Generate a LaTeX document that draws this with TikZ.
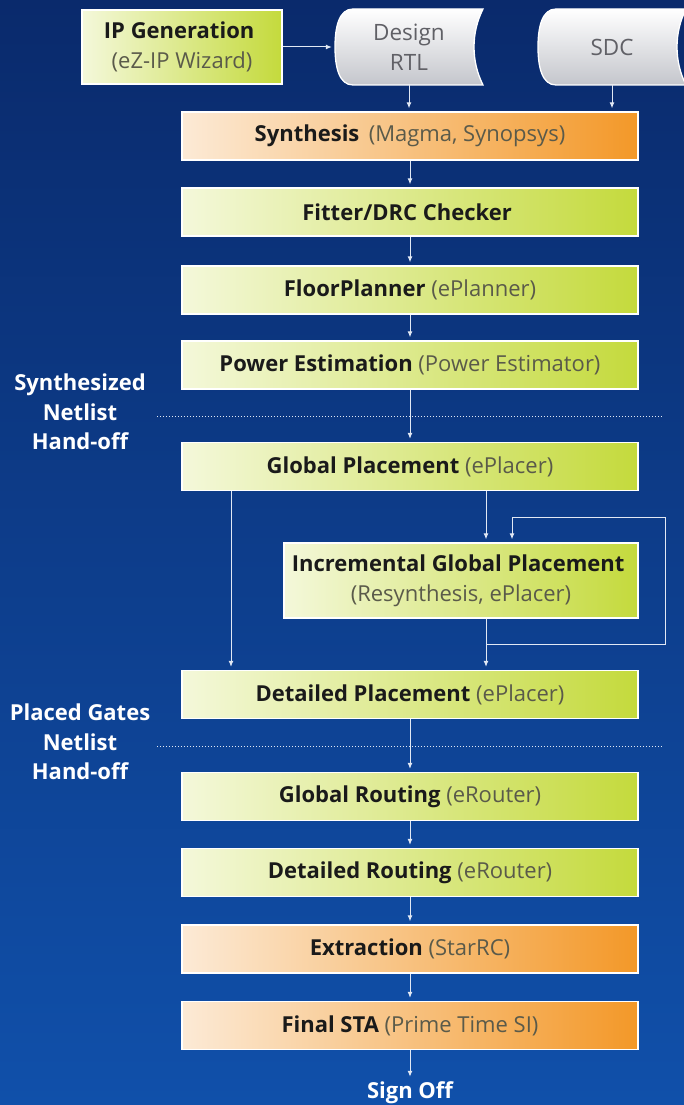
\documentclass[tikz,border=0pt]{standalone}
\usepackage{fontspec}
\setmainfont{Open Sans}
\usetikzlibrary{arrows.meta}
\newcommand{\LINEPT}{1.3pt}
\newcommand{\BOXW}{456pt}
\newcommand{\BOXH}{48pt}
\definecolor{mybgtop}{RGB}{10,42,108}
\definecolor{mybgbot}{RGB}{16,80,170}
\definecolor{mygreenpale}{RGB}{244,248,218}
\definecolor{mygreen}{RGB}{196,218,60}
\definecolor{myorangepale}{RGB}{252,234,214}
\definecolor{myorange}{RGB}{243,152,40}
\definecolor{mygrey}{RGB}{196,198,204}
\definecolor{myline}{RGB}{225,232,244}
\definecolor{mytool}{RGB}{90,90,74}
\definecolor{mystep}{RGB}{26,26,26}
\definecolor{mydoc}{RGB}{96,96,102}
\newcommand{\stepname}[2]{{\bfseries\color{mystep}#1} {\color{mytool}#2}}
% stored data shape, centred on (#1,#2)
\newcommand{\docshape}[2]{%
	\draw[docbox, shift={(#1,#2)}] (-56,-38) -- (74,-38) .. controls (62,-14) and (62,14) .. (74,38) -- (-56,38) .. controls (-70,38) and (-74,20) .. (-74,0) .. controls (-74,-20) and (-70,-38) .. (-56,-38) -- cycle;}

\begin{document}
\begin{tikzpicture}[x=1pt,y=-1pt,
	font=\fontsize{22}{30}\selectfont,
	>={Latex[length=6pt,width=5pt]},
	greenbox/.style={draw=white, line width=\LINEPT, left color=mygreenpale, right color=mygreen, minimum width=\BOXW, minimum height=\BOXH, inner sep=0pt, align=center},
	orangebox/.style={greenbox, left color=myorangepale, right color=myorange},
	docbox/.style={draw=white, line width=\LINEPT, top color=white, bottom color=mygrey},
	doctext/.style={text=mydoc, align=center, inner sep=0pt, minimum width=148pt, minimum height=76pt, font=\fontsize{22.5}{30}\selectfont},
	flow/.style={->, color=myline, line width=1pt, shorten >=3pt},
	handoff/.style={color=myline, dotted, line width=1pt},
	note/.style={text=white, align=center, inner sep=2pt, font=\fontsize{22}{29.5}\selectfont\bfseries}]

	\useasboundingbox (0,0) rectangle (684,1105);
	\fill[top color=mybgtop, bottom color=mybgbot] (0,0) rectangle (684,1105);

	%% inputs
	\docshape{409}{47}
	\docshape{612}{47}
	\node[greenbox, minimum width=200pt, minimum height=74pt] (ipgen) at (182,47) {\stepname{IP Generation}{}\\{\color{mytool}(eZ-IP Wizard)}};
	\node[doctext] (rtl) at (409,47) {Design\\RTL};
	\node[doctext] (sdc) at (612,47) {SDC};

	%% flow steps
	\node[orangebox] (synth) at (410,136) {\stepname{Synthesis}{\,(Magma, Synopsys)}};
	\node[greenbox] (fitter) at (410,212) {\stepname{Fitter/DRC Checker}{}};
	\node[greenbox] (floor) at (410,290) {\stepname{FloorPlanner}{(ePlanner)}};
	\node[greenbox] (power) at (410,365) {\stepname{Power Estimation}{(Power Estimator)}};
	\node[greenbox] (gp) at (410,466.5) {\stepname{Global Placement}{(ePlacer)}};
	\node[greenbox, minimum width=354pt, minimum height=75pt] (igp) at (461,580.5) {\stepname{Incremental Global Placement}{}\\{\color{mytool}(Resynthesis, ePlacer)}};
	\node[greenbox] (dp) at (410,694.5) {\stepname{Detailed Placement}{(ePlacer)}};
	\node[greenbox] (gr) at (410,796.5) {\stepname{Global Routing}{(eRouter)}};
	\node[greenbox] (dr) at (410,872.5) {\stepname{Detailed Routing}{(eRouter)}};
	\node[orangebox] (extr) at (410,949) {\stepname{Extraction}{(StarRC)}};
	\node[orangebox] (sta) at (410,1025.5) {\stepname{Final STA}{(Prime Time SI)}};
	\node[note] (signoff) at (410,1093) {Sign Off};

	%% hand-off labels
	\node[note] (synnet) at (80,412) {Synthesized\\Netlist\\Hand-off};
	\node[note] (placenet) at (80,742) {Placed Gates\\Netlist\\Hand-off};
	\coordinate (cutA) at (157,416);
	\coordinate (cutB) at (157,746);
	\draw[handoff] (cutA) -- ++(505,0);
	\draw[handoff] (cutB) -- ++(505,0);

	%% connectors
	\coordinate (leftbus) at (231,0);
	\coordinate (midbus) at (486,0);
	\coordinate (loopin) at (512,0);
	\coordinate (loopturn) at (665,517);
	\coordinate (loopjoin) at (486,644);

	\draw[flow] (ipgen) -- (rtl);
	\draw[flow] (rtl.south) -- (rtl.south |- synth.north);
	\draw[flow] (sdc.south) -- (sdc.south |- synth.north);
	\draw[flow] (synth) -- (fitter);
	\draw[flow] (fitter) -- (floor);
	\draw[flow] (floor) -- (power);
	\draw[flow] (power) -- (gp);
	\draw[flow] (gp.south -| leftbus) -- (dp.north -| leftbus);
	\draw[flow] (gp.south -| midbus) -- (igp.north -| midbus);
	\draw[flow] (igp.south -| midbus) -- (dp.north -| midbus);
	\draw[flow] (loopjoin) -| (loopturn) -| (igp.north -| loopin);
	\draw[flow] (dp) -- (gr);
	\draw[flow] (gr) -- (dr);
	\draw[flow] (dr) -- (extr);
	\draw[flow] (extr) -- (sta);
	\draw[flow] (sta) -- (signoff);

\end{tikzpicture}
\end{document}
